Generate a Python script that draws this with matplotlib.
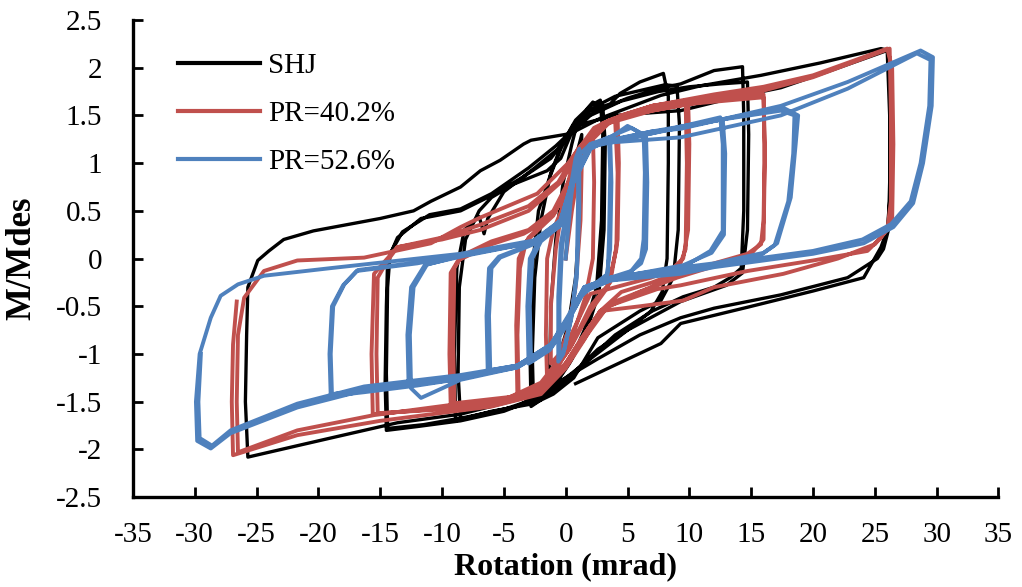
import matplotlib
matplotlib.use("Agg")
import matplotlib.pyplot as plt
from matplotlib.ticker import FuncFormatter
import numpy as np

# hysteresis curves: (rotation in mrad, M/Mdes)
shj_pts = [
    (0, 0), (0.4, 0.6), (0.9, 1.1), (1.3, 1.3), (1.2, 0.6), (0.8, -0.2), (0.2, -0.7), (-0.6, -1.05),
    (-1.3, -1.2), (-1.2, -0.5), (-0.8, 0.2), (-0.2, 0.8),
    (0.5, 1.2), (1.0, 1.45), (2.0, 1.6), (2.8, 1.66), (3.0, 1.3), (2.9, 0.4), (2.5, -0.3), (1.5, -0.75),
    (0.5, -1.05), (-0.8, -1.3), (-1.8, -1.45), (-2.6, -1.52),
    (-2.7, -1.0), (-2.5, -0.2), (-2.0, 0.4), (-1.2, 0.9), (-0.3, 1.2), (0.8, 1.45), (1.6, 1.55),
    (2.2, 1.64), (2.6, 1.58), (3.0, 1.6),
    (3.2, 1.2), (3.1, 0.3), (2.7, -0.35), (1.6, -0.8), (0.3, -1.1), (-1.0, -1.35), (-2.0, -1.48), (-2.8, -1.55),
    (-2.9, -0.9), (-2.7, -0.1), (-2.2, 0.5), (-1.3, 0.85), (-0.4, 1.15), (0.6, 1.4), (2.0, 1.55),
    (3.6, 1.62), (4.4, 1.73), (6.0, 1.85), (7.9, 1.94),
    (8.3, 1.7), (8.3, 1.0), (8.2, 0.0), (7.8, -0.35), (6.9, -0.55), (5.0, -0.75), (2.6, -0.95),
    (0.6, -1.2), (-2.0, -1.45), (-5.0, -1.58), (-8.5, -1.68),
    (-8.7, -1.2), (-8.6, -0.3), (-8.1, 0.2), (-7.0, 0.5), (-6.0, 0.64), (-4.2, 0.78), (-1.5, 0.92),
    (-0.4, 1.05), (0.65, 1.37), (1.5, 1.52), (2.8, 1.62), (4.0, 1.7), (6.0, 1.76), (8.0, 1.82), (9.0, 1.81),
    (9.2, 1.4), (9.1, 0.3), (8.7, -0.2), (7.7, -0.44), (6.0, -0.55), (2.6, -0.83), (0.65, -1.25),
    (-1.0, -1.42), (-2.6, -1.52), (-6.0, -1.6), (-8.9, -1.7),
    (-9.0, -1.0), (-8.8, -0.1), (-8.2, 0.3), (-7.0, 0.44), (-6.6, 0.26), (-6.3, 0.42), (-5.0, 0.7),
    (-2.5, 0.95), (-0.6, 1.15), (0.8, 1.4), (2.5, 1.55), (5.0, 1.68), (7.5, 1.78), (9.3, 1.83),
    (12.0, 1.97), (14.3, 2.01),
    (14.4, 1.5), (14.4, 0.5), (14.2, -0.1), (13.3, -0.2), (12.0, -0.3), (9.5, -0.4), (7.0, -0.55),
    (4.0, -0.8), (1.5, -1.1), (-1.0, -1.4), (-5.0, -1.6), (-8.5, -1.7), (-12.0, -1.76), (-14.5, -1.8),
    (-14.6, -1.3), (-14.5, -0.5), (-14.4, -0.02), (-13.6, 0.22), (-11.7, 0.42), (-8.5, 0.5), (-6.0, 0.66),
    (-3.5, 0.85), (-1.2, 1.05), (0.3, 1.3), (2.0, 1.5), (4.5, 1.65), (7.5, 1.75), (10.0, 1.8),
    (12.5, 1.83), (14.7, 1.85),
    (14.8, 1.3), (14.7, 0.3), (14.3, -0.15), (13.0, -0.28), (9.3, -0.45), (5.0, -0.75), (2.0, -1.05),
    (-1.0, -1.35), (-4.0, -1.55), (-8.0, -1.66), (-11.5, -1.74), (-14.4, -1.78),
    (-14.5, -1.2), (-14.4, -0.3), (-14.2, 0.05), (-13.2, 0.28), (-11.0, 0.46), (-8.5, 0.52), (-6.0, 0.68),
    (-3.0, 0.95), (-0.8, 1.18), (1.0, 1.4), (4.0, 1.5), (9.3, 1.55), (14.0, 1.7), (17.4, 1.79),
    (21.0, 1.95), (26.0, 2.18),
    (26.2, 1.5), (26.2, 0.8), (26.1, 0.3), (25.7, 0.1), (25.2, 0.0), (22.8, -0.2), (17.4, -0.38),
    (12.0, -0.52), (9.3, -0.62), (6.0, -0.8), (2.6, -1.05), (0.0, -1.25), (-3.0, -1.45), (-8.5, -1.63),
    (-13.6, -1.72), (-19.0, -1.88), (-25.7, -2.08),
    (-25.9, -1.5), (-25.8, -0.8), (-25.7, -0.3), (-24.9, -0.02), (-24.0, 0.08), (-22.8, 0.2),
    (-20.4, 0.29), (-15.0, 0.42), (-12.3, 0.5), (-10.9, 0.6), (-8.5, 0.75), (-6.9, 0.92), (-5.3, 1.03),
    (-3.4, 1.2), (-2.8, 1.24), (0.4, 1.31), (2.8, 1.47), (7.7, 1.71), (10.9, 1.81), (15.8, 1.92),
    (20.6, 2.05), (25.5, 2.2), (26.1, 2.18),
    (26.3, 1.5), (26.2, 0.6), (26.0, 0.3), (25.5, 0.12), (24.1, -0.2), (20.0, -0.34), (14.7, -0.51),
    (9.3, -0.68), (7.7, -0.89), (2.6, -1.2), (0.8, -1.31),
]

pr402_pts = [
    (0, 0), (0.5, 0.5), (1.0, 0.9), (1.3, 1.0), (1.2, 0.4), (0.8, -0.3), (0.2, -0.75), (-0.5, -1.0),
    (-1.2, -1.1), (-1.2, -0.5), (-0.8, 0.1), (-0.2, 0.6), (0.6, 1.0),
    (1.5, 1.2), (2.2, 1.3), (2.3, 0.8), (2.2, 0.0), (1.6, -0.4), (0.6, -0.8), (-0.5, -1.1), (-1.5, -1.3),
    (-1.6, -0.8), (-1.5, 0.0), (-1.0, 0.3), (-0.2, 0.55), (0.8, 0.95), (1.7, 1.2), (2.3, 1.3),
    (3.0, 1.38), (4.2, 1.47), (4.3, 1.0), (4.2, 0.2), (3.6, -0.25), (2.0, -0.5), (0.5, -0.9),
    (-1.5, -1.3), (-3.8, -1.45),
    (-3.9, -0.8), (-3.7, -0.1), (-3.2, 0.18), (-1.0, 0.45), (0.0, 0.7), (1.5, 1.1), (2.6, 1.37), (4.0, 1.45),
    (4.2, 0.9), (4.1, 0.1), (3.4, -0.3), (2.0, -0.55), (0.3, -0.95), (-1.8, -1.32), (-3.9, -1.47),
    (-4.0, -0.7), (-3.8, 0.0), (-3.0, 0.22), (-0.9, 0.48), (0.1, 0.75), (1.6, 1.15), (2.7, 1.38),
    (4.5, 1.5), (7.0, 1.6), (9.9, 1.66),
    (10.0, 1.2), (9.9, 0.3), (9.5, 0.0), (8.5, -0.12), (6.9, -0.2), (4.0, -0.3), (2.0, -0.37), (0.8, -0.7),
    (-0.5, -1.05), (-2.0, -1.3), (-4.5, -1.45), (-9.3, -1.52),
    (-9.4, -1.0), (-9.3, -0.15), (-8.7, -0.02), (-6.0, 0.15), (-3.4, 0.26), (-1.5, 0.4), (-0.4, 0.58),
    (0.6, 0.85), (1.5, 1.1), (2.6, 1.37), (4.5, 1.5), (7.0, 1.6), (9.7, 1.65),
    (9.8, 1.0), (9.7, 0.1), (9.0, -0.15), (7.0, -0.25), (4.5, -0.35), (2.8, -0.55), (1.5, -0.8),
    (0.0, -1.1), (-2.0, -1.35), (-5.0, -1.47), (-9.0, -1.54),
    (-9.1, -0.9), (-9.0, -0.1), (-8.4, 0.03), (-6.0, 0.18), (-3.0, 0.3), (-1.0, 0.5), (0.2, 0.8),
    (1.8, 1.2), (3.5, 1.42), (7.0, 1.55), (10.0, 1.62), (13.0, 1.68), (16.0, 1.72),
    (16.1, 1.2), (16.0, 0.4), (15.8, 0.15), (14.7, 0.05), (12.0, -0.05), (9.5, -0.15), (6.9, -0.3),
    (4.0, -0.45), (2.8, -0.55), (1.2, -0.85), (0.0, -1.1), (-2.0, -1.38), (-6.0, -1.52), (-10.0, -1.57),
    (-15.6, -1.63),
    (-15.7, -1.0), (-15.5, -0.16), (-14.7, -0.04), (-13.6, 0.12), (-10.0, 0.2), (-6.9, 0.3), (-3.0, 0.5),
    (-0.4, 0.8), (1.5, 1.2), (3.5, 1.45), (7.0, 1.55), (10.0, 1.62), (16.0, 1.69),
    (16.1, 1.0), (16.0, 0.2), (15.0, 0.05), (12.0, -0.08), (9.0, -0.2), (6.0, -0.35), (3.5, -0.5),
    (2.0, -0.7), (0.2, -1.07), (-2.0, -1.38), (-6.1, -1.52), (-10.0, -1.58), (-15.2, -1.62),
    (-15.3, -1.0), (-15.2, -0.2), (-14.4, -0.02), (-13.6, 0.12), (-10.0, 0.22), (-7.0, 0.35), (-3.0, 0.55),
    (-0.6, 0.8), (1.0, 1.15), (3.0, 1.42), (7.0, 1.6), (12.0, 1.72), (16.0, 1.8), (20.0, 1.92), (26.0, 2.2),
    (26.4, 2.0), (26.5, 1.2), (26.4, 0.4), (25.5, 0.22), (24.4, 0.08), (20.0, -0.02), (14.7, -0.13),
    (9.3, -0.28), (7.4, -0.32), (3.4, -0.5), (2.0, -0.75), (0.2, -1.08), (-2.0, -1.4), (-6.1, -1.52),
    (-8.5, -1.52), (-15.5, -1.64), (-21.7, -1.8), (-26.5, -2.03),
    (-26.6, -1.5), (-26.5, -0.8), (-26.0, -0.41), (-24.4, -0.13), (-21.7, -0.02), (-16.3, 0.01),
    (-10.9, 0.16), (-8.5, 0.33), (-6.9, 0.43), (-2.3, 0.68), (0.2, 1.0), (2.3, 1.37), (3.9, 1.47),
    (9.3, 1.64), (16.0, 1.76), (20.0, 1.9), (26.2, 2.2),
    (26.3, 1.5), (26.3, 0.6), (26.0, 0.3), (25.0, 0.15), (22.0, 0.0), (17.6, -0.16), (12.0, -0.3),
    (9.5, -0.44), (6.0, -0.5), (2.8, -0.55), (1.5, -0.85), (0.0, -1.15), (-2.0, -1.42), (-6.0, -1.55),
    (-15.0, -1.7), (-21.7, -1.85), (-26.9, -2.06),
    (-27.0, -1.5), (-26.9, -0.9), (-26.6, -0.45),
]

pr526_pts = [
    (0, 0), (0.4, 0.6), (0.8, 1.0), (1.0, 1.1), (1.0, 0.6), (0.9, -0.1), (0.5, -0.6), (-0.1, -0.95),
    (-0.5, -1.05), (-0.5, -0.5), (-0.3, 0.1), (0.2, 0.6), (0.8, 1.05), (1.1, 1.15), (1.1, 0.5),
    (0.9, -0.2), (0.4, -0.65), (-0.2, -1.0), (-0.6, -1.08), (-0.6, -0.4), (-0.4, 0.15), (0.3, 0.65),
    (1.2, 1.1), (2.0, 1.2), (3.5, 1.27), (3.6, 0.9), (3.5, 0.2), (3.4, -0.16), (2.5, -0.25), (1.2, -0.38),
    (0.2, -0.65), (-1.2, -0.93), (-2.8, -1.08),
    (-2.9, -0.5), (-2.7, 0.0), (-2.0, 0.18), (-0.4, 0.35), (0.6, 0.8), (2.0, 1.15), (3.6, 1.25),
    (3.7, 0.8), (3.6, 0.1), (3.3, -0.2), (2.3, -0.28), (1.0, -0.42), (0.1, -0.7), (-1.3, -0.96), (-3.0, -1.1),
    (-3.1, -0.5), (-2.9, 0.0), (-2.1, 0.2), (-0.5, 0.37), (0.5, 0.8), (2.0, 1.18), (4.0, 1.3), (5.0, 1.39),
    (6.3, 1.3),
    (6.4, 0.9), (6.3, 0.2), (6.1, 0.0), (5.3, -0.13), (3.6, -0.2), (1.5, -0.3), (0.2, -0.6), (-1.2, -0.9),
    (-3.9, -1.12), (-6.1, -1.17),
    (-6.2, -0.6), (-6.0, -0.1), (-5.3, 0.01), (-2.6, 0.15), (-0.4, 0.35), (0.65, 0.8), (2.0, 1.15),
    (4.0, 1.3), (5.3, 1.37), (6.5, 1.28),
    (6.6, 0.8), (6.5, 0.1), (6.1, -0.05), (5.0, -0.16), (3.6, -0.22), (1.5, -0.33), (0.2, -0.63),
    (-1.2, -0.92), (-3.9, -1.13), (-6.3, -1.2),
    (-6.4, -0.6), (-6.2, -0.1), (-5.4, 0.02), (-2.6, 0.16), (-0.4, 0.37), (0.65, 0.82), (2.0, 1.17),
    (6.9, 1.31), (12.5, 1.48),
    (12.7, 1.2), (12.7, 0.29), (11.7, 0.08), (9.5, -0.09), (3.6, -0.23), (1.5, -0.34), (0.2, -0.65),
    (-1.2, -0.93), (-3.9, -1.14), (-8.5, -1.27), (-10.0, -1.36), (-11.7, -1.46), (-12.5, -1.36),
    (-12.6, -0.8), (-12.3, -0.3), (-11.2, -0.06), (-8.5, 0.02), (-2.6, 0.17), (-0.4, 0.37), (0.65, 0.83),
    (2.0, 1.18), (6.9, 1.32), (12.7, 1.46),
    (12.9, 1.1), (12.8, 0.25), (11.8, 0.06), (9.5, -0.07), (3.6, -0.21), (1.5, -0.32), (0.2, -0.63),
    (-1.2, -0.91), (-3.9, -1.13), (-8.5, -1.26), (-12.7, -1.33),
    (-12.8, -0.8), (-12.5, -0.3), (-11.4, -0.07), (-8.5, 0.03), (-2.6, 0.18), (-0.4, 0.38), (0.65, 0.84),
    (2.0, 1.19), (6.9, 1.33), (12.3, 1.45), (17.6, 1.58),
    (18.8, 1.5), (18.6, 1.2), (18.2, 0.64), (17.1, 0.16), (16.0, 0.06), (12.0, -0.05), (9.5, -0.09),
    (3.6, -0.2), (1.5, -0.3), (0.3, -0.6), (-1.0, -0.9), (-3.9, -1.12), (-8.5, -1.25), (-12.0, -1.32),
    (-16.3, -1.38), (-18.9, -1.42),
    (-19.0, -1.0), (-18.8, -0.5), (-17.9, -0.27), (-16.8, -0.12), (-12.0, -0.04), (-8.5, 0.03),
    (-2.6, 0.17), (-0.4, 0.38), (0.65, 0.85), (2.0, 1.18), (6.9, 1.31), (12.3, 1.45), (17.4, 1.55),
    (18.5, 1.5),
    (18.4, 1.1), (18.0, 0.6), (16.9, 0.14), (15.8, 0.04), (12.0, -0.06), (9.5, -0.1), (3.6, -0.22),
    (1.5, -0.32), (0.2, -0.62), (-1.2, -0.92), (-3.9, -1.13), (-8.5, -1.26), (-12.0, -1.33),
    (-16.3, -1.4), (-19.0, -1.44),
    (-19.1, -1.0), (-18.9, -0.5), (-18.0, -0.28), (-16.9, -0.13), (-12.0, -0.05), (-8.5, 0.04),
    (-2.6, 0.18), (-0.4, 0.4), (0.65, 0.86), (2.0, 1.2), (6.9, 1.33), (9.3, 1.36), (17.4, 1.6),
    (22.8, 1.85), (28.7, 2.18), (29.7, 2.11),
    (29.6, 1.6), (28.9, 1.0), (28.1, 0.58), (26.5, 0.33), (24.1, 0.16), (20.0, 0.05), (12.0, -0.09),
    (9.3, -0.16), (3.6, -0.23), (1.5, -0.34), (0.2, -0.65), (-1.2, -0.93), (-3.9, -1.14), (-8.5, -1.25),
    (-16.3, -1.38), (-21.7, -1.56), (-27.1, -1.83), (-28.7, -1.99), (-29.8, -1.91),
    (-29.9, -1.5), (-29.6, -1.0), (-28.7, -0.62), (-27.9, -0.39), (-26.5, -0.27), (-24.4, -0.18),
    (-19.0, -0.1), (-8.5, 0.05), (-2.6, 0.19), (-0.4, 0.4), (0.65, 0.85), (2.0, 1.2), (4.0, 1.22),
    (9.3, 1.27), (17.4, 1.5), (22.8, 1.78), (28.4, 2.15), (29.5, 2.08),
    (29.4, 1.6), (28.7, 1.0), (27.9, 0.6), (26.3, 0.36), (24.0, 0.2), (20.0, 0.08), (12.0, -0.06),
    (9.3, -0.13), (3.6, -0.2), (1.5, -0.31), (0.2, -0.62), (-1.2, -0.9), (-3.9, -1.12), (-8.5, -1.22),
    (-16.3, -1.34), (-21.7, -1.52), (-27.1, -1.8), (-28.6, -1.96), (-29.6, -1.88),
    (-29.7, -1.5), (-29.5, -1.0),
]

series_names = ["SHJ", "PR=40.2%", "PR=52.6%"]
series_colors = ["black", "#C0504D", "#4F81BD"]
series_widths = [2.4, 2.8, 2.8]

x_ticks = np.arange(-35, 36, 5)
y_ticks = np.arange(-2.5, 2.51, 0.5)

plt.rcParams["font.family"] = ["Liberation Serif", "DejaVu Serif"]

fig = plt.figure(figsize=(10.22, 5.87), dpi=100)
ax = fig.add_axes([0.130, 0.153, 0.847, 0.813])

for pts, name, col, lw in zip([shj_pts, pr402_pts, pr526_pts], series_names, series_colors, series_widths):
    arr = np.array(pts)
    ax.plot(arr[:, 0], arr[:, 1], color=col, lw=lw, label=name, solid_joinstyle="round")

ax.set_xlim(-35, 35)
ax.set_ylim(-2.5, 2.5)
ax.set_xticks(x_ticks)
ax.set_yticks(y_ticks)
fmt = FuncFormatter(lambda v, p: f"{v:g}")
ax.xaxis.set_major_formatter(fmt)
ax.yaxis.set_major_formatter(fmt)
ax.tick_params(direction="in", length=7, width=2, labelsize=21)
ax.tick_params(axis="y", pad=22)
ax.tick_params(axis="x", pad=18)

for s in ["top", "right"]:
    ax.spines[s].set_visible(False)
for s in ["left", "bottom"]:
    ax.spines[s].set_linewidth(2.4)

ax.set_xlabel("Rotation (mrad)", fontsize=23, fontweight="bold", labelpad=3)
ax.set_ylabel("M/Mdes", fontsize=25, fontweight="bold", labelpad=13)

leg = ax.legend(loc="upper left", bbox_to_anchor=(0.052, 0.932), frameon=False,
                handlelength=2.8, handletextpad=0.3, labelspacing=0.75,
                borderpad=0, borderaxespad=0, prop={"size": 21})
for line in leg.get_lines():
    line.set_linewidth(3.0)

fig.savefig("out.png", dpi=100)
